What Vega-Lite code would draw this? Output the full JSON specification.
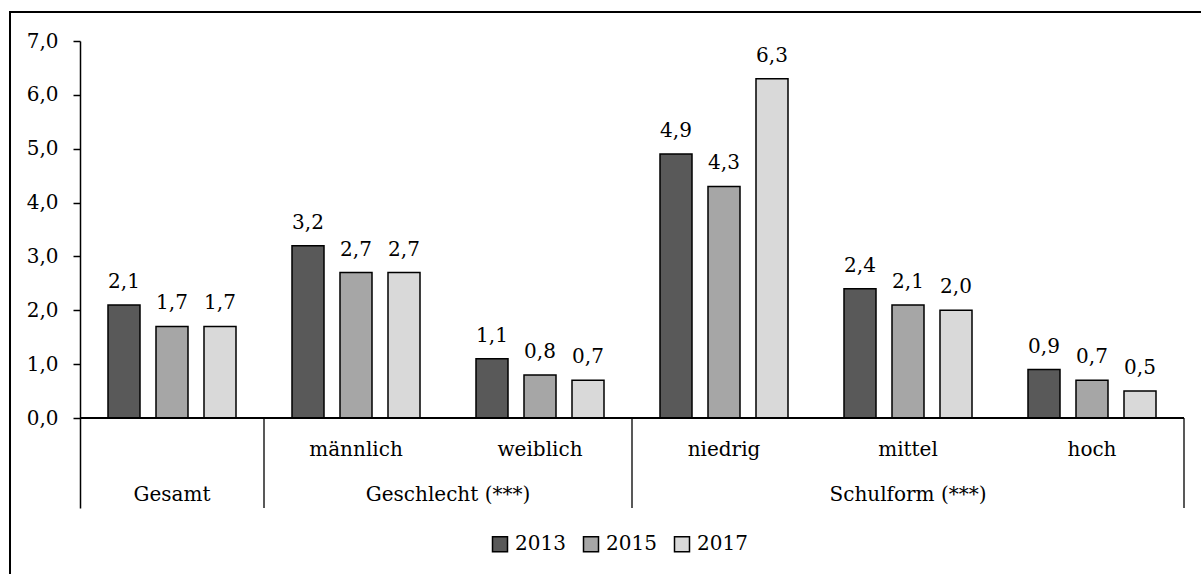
{
  "$schema": "https://vega.github.io/schema/vega-lite/v6.json",
  "autosize": {"type": "none"},
  "padding": {"left": 80, "top": 41, "right": 17, "bottom": 66},
  "width": 1104,
  "height": 467,
  "background": "white",
  "config": {
    "view": {"stroke": null},
    "font": "DejaVu Serif",
    "locale": {"number": {"decimal": ",", "thousands": ".", "grouping": [3], "currency": ["", " €"]}}
  },
  "datasets": {
    "bars": [
      {"cat": "Gesamt", "year": "2013", "value": 2.1},
      {"cat": "Gesamt", "year": "2015", "value": 1.7},
      {"cat": "Gesamt", "year": "2017", "value": 1.7},
      {"cat": "männlich", "year": "2013", "value": 3.2},
      {"cat": "männlich", "year": "2015", "value": 2.7},
      {"cat": "männlich", "year": "2017", "value": 2.7},
      {"cat": "weiblich", "year": "2013", "value": 1.1},
      {"cat": "weiblich", "year": "2015", "value": 0.8},
      {"cat": "weiblich", "year": "2017", "value": 0.7},
      {"cat": "niedrig", "year": "2013", "value": 4.9},
      {"cat": "niedrig", "year": "2015", "value": 4.3},
      {"cat": "niedrig", "year": "2017", "value": 6.3},
      {"cat": "mittel", "year": "2013", "value": 2.4},
      {"cat": "mittel", "year": "2015", "value": 2.1},
      {"cat": "mittel", "year": "2017", "value": 2.0},
      {"cat": "hoch", "year": "2013", "value": 0.9},
      {"cat": "hoch", "year": "2015", "value": 0.7},
      {"cat": "hoch", "year": "2017", "value": 0.5}
    ],
    "subs": [
      {"cat": "männlich", "label": "männlich"},
      {"cat": "weiblich", "label": "weiblich"},
      {"cat": "niedrig", "label": "niedrig"},
      {"cat": "mittel", "label": "mittel"},
      {"cat": "hoch", "label": "hoch"}
    ],
    "groups": [
      {"group": "Gesamt", "start": 0, "end": 1},
      {"group": "Geschlecht (***)", "start": 1, "end": 3},
      {"group": "Schulform (***)", "start": 3, "end": 6}
    ]
  },
  "layer": [
    {
      "data": {"values": [{}]},
      "mark": {"type": "rect", "fill": null, "stroke": "black", "strokeWidth": 2, "clip": false},
      "encoding": {
        "x": {"datum": -0.3804, "type": "quantitative", "scale": {"domain": [0, 6], "nice": false, "zero": false}, "axis": null},
        "x2": {"datum": 10},
        "y": {"datum": 7.5385, "type": "quantitative"},
        "y2": {"datum": -10}
      }
    },
    {
      "data": {"name": "bars"},
      "layer": [
        {
          "mark": {"type": "bar", "stroke": "black", "strokeWidth": 1.5},
          "encoding": {
            "x": {"field": "cat", "type": "nominal", "sort": null, "scale": {"paddingInner": 0, "paddingOuter": 0}, "axis": null},
            "xOffset": {"field": "year", "type": "nominal", "scale": {"paddingInner": 0.3333, "paddingOuter": 0.5833}},
            "y": {
              "field": "value", "type": "quantitative",
              "scale": {"domain": [-1.671, 7], "nice": false, "zero": false},
              "axis": {
                "values": [0, 1, 2, 3, 4, 5, 6, 7], "format": ".1f", "title": null, "grid": false,
                "domainColor": "black", "domainWidth": 1.5, "tickColor": "black", "tickWidth": 1.5, "tickSize": 7,
                "labelFont": "DejaVu Serif", "labelFontSize": 20, "labelColor": "black", "labelPadding": 15
              }
            },
            "fill": {
              "field": "year", "type": "nominal",
              "scale": {"domain": ["2013", "2015", "2017"], "range": ["#595959", "#a6a6a6", "#d9d9d9"]},
              "legend": {
                "title": null, "orient": "none", "direction": "horizontal", "legendX": 410, "legendY": 493,
                "padding": 0, "symbolType": "square", "symbolSize": 225, "symbolStrokeColor": "black",
                "symbolStrokeWidth": 1.5, "labelFont": "DejaVu Serif", "labelFontSize": 20, "labelColor": "black",
                "labelOffset": 5, "columnPadding": 14
              }
            }
          }
        },
        {
          "mark": {"type": "text", "baseline": "alphabetic", "dy": -17, "fontSize": 20, "color": "black"},
          "encoding": {
            "x": {"field": "cat", "type": "nominal", "sort": null},
            "xOffset": {"field": "year", "type": "nominal"},
            "y": {"field": "value", "type": "quantitative"},
            "text": {"field": "value", "type": "quantitative", "format": ".1f"}
          }
        }
      ]
    },
    {
      "data": {"name": "subs"},
      "mark": {"type": "text", "baseline": "alphabetic", "fontSize": 20, "color": "black"},
      "encoding": {
        "x": {"field": "cat", "type": "nominal", "sort": ["Gesamt", "männlich", "weiblich", "niedrig", "mittel", "hoch"], "scale": {"domain": ["Gesamt", "männlich", "weiblich", "niedrig", "mittel", "hoch"], "paddingInner": 0, "paddingOuter": 0}, "axis": null},
        "y": {"datum": -0.7056, "type": "quantitative"},
        "text": {"field": "label"}
      }
    },
    {
      "data": {"name": "groups"},
      "transform": [{"calculate": "(datum.start + datum.end) / 2", "as": "mid"}],
      "mark": {"type": "text", "baseline": "alphabetic", "fontSize": 20, "color": "black"},
      "encoding": {
        "x": {"field": "mid", "type": "quantitative", "scale": {"domain": [0, 6], "nice": false, "zero": false}, "axis": null},
        "y": {"datum": -1.541, "type": "quantitative"},
        "text": {"field": "group"}
      }
    },
    {
      "data": {"name": "groups"},
      "mark": {"type": "rule", "stroke": "#222222", "strokeWidth": 1.5},
      "encoding": {
        "x": {"field": "end", "type": "quantitative", "scale": {"domain": [0, 6], "nice": false, "zero": false}, "axis": null},
        "y": {"datum": -1.671, "type": "quantitative"},
        "y2": {"datum": 0}
      }
    },
    {
      "data": {"values": [{}]},
      "mark": {"type": "rule", "stroke": "black", "strokeWidth": 2},
      "encoding": {
        "y": {"datum": 0, "type": "quantitative"}
      }
    }
  ],
  "resolve": {"scale": {"x": "independent"}}
}
